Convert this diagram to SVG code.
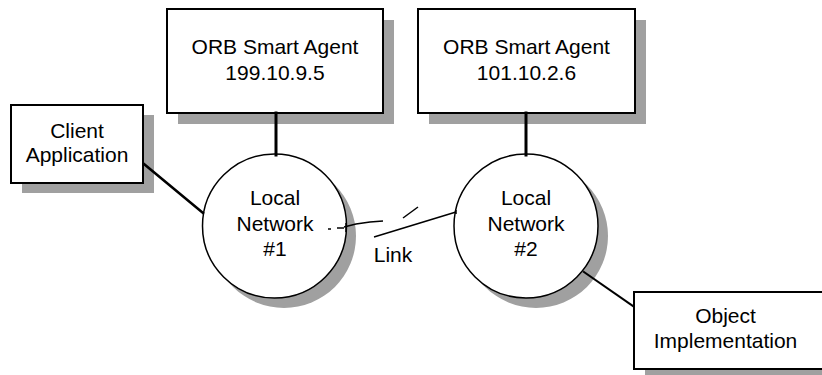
<svg xmlns="http://www.w3.org/2000/svg" width="822" height="375" viewBox="0 0 822 375">
<style>
.box{fill:#fff;stroke:#000;stroke-width:2}
.shadow{fill:#a0a0a0;stroke:none}
.circ{fill:#fff;stroke:#000;stroke-width:1.5}
text{font-family:"Liberation Sans",Arial,sans-serif;font-size:21px;fill:#000;text-anchor:middle}
.conn{stroke:#000;fill:none;stroke-linecap:square}
</style>
<rect width="822" height="375" fill="#fff"/>
<g id="agent1">
<rect class="shadow" x="178" y="20" width="216" height="104"/>
<rect class="box" x="167" y="9" width="216" height="104"/>
<text x="275" y="54">ORB Smart Agent</text>
<text x="275" y="80">199.10.9.5</text>
</g>
<g id="agent2">
<rect class="shadow" x="429" y="20" width="217" height="104"/>
<rect class="box" x="418" y="9" width="217" height="104"/>
<text x="526.5" y="54">ORB Smart Agent</text>
<text x="526.5" y="80">101.10.2.6</text>
</g>
<g id="client">
<rect class="shadow" x="22" y="115" width="132" height="78"/>
<rect class="box" x="11" y="105" width="132" height="78"/>
<text x="77" y="138">Client</text>
<text x="77" y="162">Application</text>
</g>
<g id="objimpl">
<rect class="shadow" x="645" y="302" width="200" height="80"/>
<rect class="box" x="634" y="292" width="200" height="77"/>
<text x="725.5" y="323">Object</text>
<text x="725.5" y="348">Implementation</text>
</g>
<g id="net1">
<circle class="shadow" cx="284" cy="236" r="72"/>
<circle class="circ" cx="274.5" cy="226" r="72"/>
<text x="275" y="205">Local</text>
<text x="275" y="231">Network</text>
<text x="275" y="256">#1</text>
</g>
<g id="net2">
<circle class="shadow" cx="536" cy="236" r="72"/>
<circle class="circ" cx="526" cy="226" r="72"/>
<text x="526" y="205">Local</text>
<text x="526" y="231">Network</text>
<text x="526" y="256">#2</text>
</g>
<g id="connectors">
<line class="conn" x1="276" y1="113" x2="276" y2="155" stroke-width="3"/>
<line class="conn" x1="526" y1="113" x2="526" y2="155" stroke-width="3"/>
<line class="conn" x1="144" y1="164" x2="203" y2="213" stroke-width="2.5"/>
<line class="conn" x1="584" y1="272" x2="633" y2="306" stroke-width="2"/>
<g id="link" stroke="#000" stroke-width="1.5" fill="none">
<line x1="328" y1="229" x2="331" y2="229"/>
<line x1="337" y1="228" x2="344" y2="228"/>
<polyline points="344,227 356,224 370,222 383,221"/>
<line x1="403" y1="218" x2="418" y2="207"/>
<line x1="374" y1="237" x2="456" y2="212"/>
<line x1="456" y1="210" x2="456" y2="214"/>
<line x1="346" y1="223" x2="346" y2="232"/>
</g>
</g>
<text x="393" y="262">Link</text>
</svg>
